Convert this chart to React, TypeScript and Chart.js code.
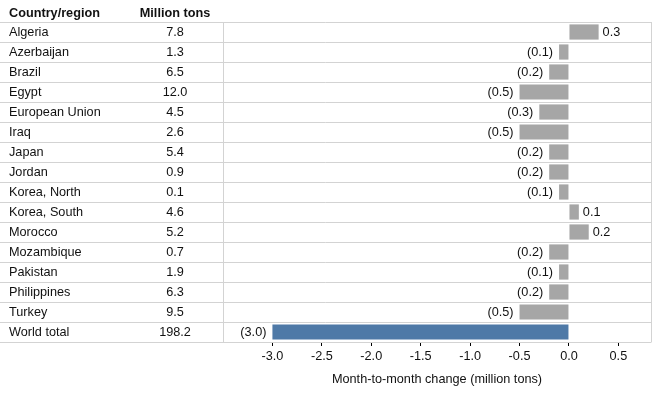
import React, { useEffect, useRef } from "react";
import { Chart, registerables } from "chart.js";

Chart.register(...registerables);

const countries = [
  "Algeria", "Azerbaijan", "Brazil", "Egypt", "European Union", "Iraq", "Japan", "Jordan",
  "Korea, North", "Korea, South", "Morocco", "Mozambique", "Pakistan", "Philippines", "Turkey", "World total",
];
const millionTons = ["7.8", "1.3", "6.5", "12.0", "4.5", "2.6", "5.4", "0.9", "0.1", "4.6", "5.2", "0.7", "1.9", "6.3", "9.5", "198.2"];
const monthlyChange = [0.3, -0.1, -0.2, -0.5, -0.3, -0.5, -0.2, -0.2, -0.1, 0.1, 0.2, -0.2, -0.1, -0.2, -0.5, -3.0];
const xTicks = [-3.0, -2.5, -2.0, -1.5, -1.0, -0.5, 0.0, 0.5];

const FONT = 'Arial, "Liberation Sans", sans-serif';
const FS = 12.7;
const TEXT = "#111111";
const GRID = "#d3d3d3";
const GRAY = "#a6a6a6";
const BLUE = "#4e79a7";

const fmt = (v: number) => (v < 0 ? `(${Math.abs(v).toFixed(1)})` : v.toFixed(1));

const tablePlugin = {
  id: "tablePlugin",
  beforeDatasetsDraw(chart: any) {
    const { ctx, chartArea } = chart;
    const { top, bottom, left, right } = chartArea;
    const n = countries.length;
    const rowH = (bottom - top) / n;
    ctx.save();
    ctx.strokeStyle = GRID;
    ctx.lineWidth = 1;
    ctx.beginPath();
    for (let i = 0; i <= n; i++) {
      const y = Math.round(top + i * rowH) + 0.5;
      ctx.moveTo(0, y);
      ctx.lineTo(right + 0.5, y);
    }
    ctx.moveTo(Math.round(left) + 0.5, top);
    ctx.lineTo(Math.round(left) + 0.5, bottom);
    ctx.moveTo(Math.round(right) + 0.5, top);
    ctx.lineTo(Math.round(right) + 0.5, bottom);
    ctx.stroke();

    ctx.fillStyle = TEXT;
    ctx.textBaseline = "middle";
    ctx.font = `bold ${FS}px ${FONT}`;
    ctx.textAlign = "left";
    ctx.fillText("Country/region", 9, top - 8.5);
    ctx.textAlign = "center";
    ctx.fillText("Million tons", 175, top - 8.5);

    ctx.font = `${FS}px ${FONT}`;
    const yScale = chart.scales.y;
    countries.forEach((c, i) => {
      const y = yScale.getPixelForValue(i) + 0.5;
      ctx.textAlign = "left";
      ctx.fillText(c, 9, y);
      ctx.textAlign = "center";
      ctx.fillText(millionTons[i], 175, y);
    });
    ctx.restore();
  },
  afterDatasetsDraw(chart: any) {
    const { ctx, chartArea } = chart;
    const xScale = chart.scales.x;
    const yScale = chart.scales.y;
    ctx.save();
    ctx.fillStyle = TEXT;
    ctx.textBaseline = "middle";
    ctx.font = `${FS}px ${FONT}`;
    monthlyChange.forEach((v, i) => {
      const y = yScale.getPixelForValue(i) + 0.5;
      const x = xScale.getPixelForValue(v);
      if (v < 0) {
        ctx.textAlign = "right";
        ctx.fillText(fmt(v), x - 6, y);
      } else {
        ctx.textAlign = "left";
        ctx.fillText(fmt(v), x + 4, y);
      }
    });
    ctx.textAlign = "center";
    ctx.fillText("Month-to-month change (million tons)", (chartArea.left + chartArea.right) / 2, 379);
    ctx.restore();
  },
};

export default function App() {
  const ref = useRef<HTMLCanvasElement>(null);
  useEffect(() => {
    if (!ref.current) return;
    const chart = new Chart(ref.current, {
      type: "bar",
      data: {
        labels: countries,
        datasets: [
          {
            data: monthlyChange,
            backgroundColor: countries.map((c) => (c === "World total" ? BLUE : GRAY)),
            borderWidth: 0,
            barPercentage: 0.76,
            categoryPercentage: 1,
          },
        ],
      },
      options: {
        indexAxis: "y",
        animation: false,
        responsive: false,
        maintainAspectRatio: false,
        layout: { padding: { left: 223, right: 9, top: 22, bottom: 0 } },
        plugins: { legend: { display: false }, tooltip: { enabled: false } },
        scales: {
          y: { display: false, offset: true },
          x: {
            min: -3.5,
            max: 0.83,
            afterBuildTicks: (scale: any) => {
              scale.ticks = xTicks.map((v) => ({ value: v }));
            },
            afterFit: (scale: any) => {
              scale.height = 52;
            },
            border: { display: false },
            grid: { drawOnChartArea: false, drawTicks: true, tickLength: 4, tickColor: "#000", tickWidth: 1 },
            ticks: {
              padding: 3,
              color: TEXT,
              font: { family: FONT, size: FS },
              maxRotation: 0,
              autoSkip: false,
              callback: (v: any) => Number(v).toFixed(1),
            },
          },
        },
      },
      plugins: [tablePlugin],
    });
    return () => chart.destroy();
  }, []);
  return (
    <div style={{ position: "fixed", left: 0, top: 0, width: 660, height: 394, background: "#fff" }}>
      <canvas ref={ref} width={660} height={394} style={{ display: "block", width: 660, height: 394 }} />
    </div>
  );
}
